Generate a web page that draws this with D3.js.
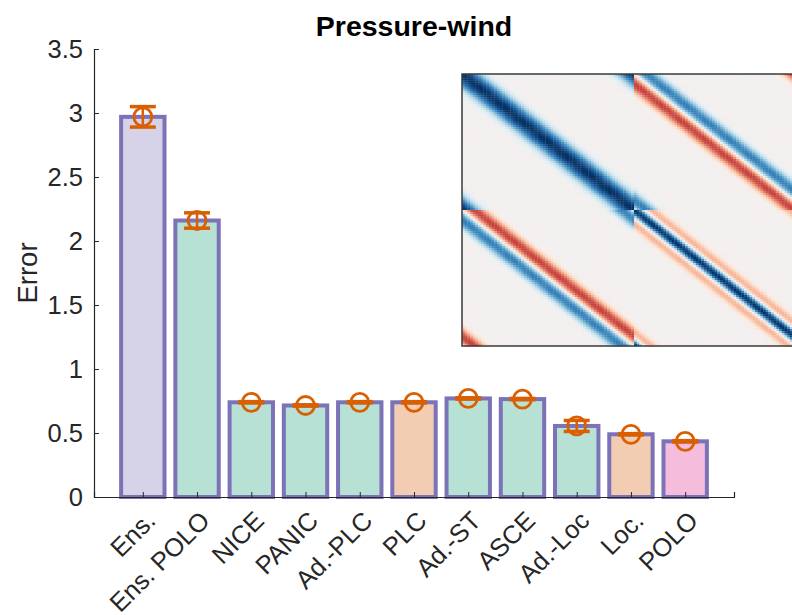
<!DOCTYPE html>
<html>
<head>
<meta charset="utf-8">
<script src="https://cdn.jsdelivr.net/npm/d3@7"></script>
<style>
  body { margin: 0; background: #fff; }
  svg { display: block; font-family: "Liberation Sans", Arial, sans-serif; }
</style>
</head>
<body>
<div class="chart"></div>
<script>
// bar chart data
const methods = ["Ens.", "Ens. POLO", "NICE", "PANIC", "Ad.-PLC", "PLC", "Ad.-ST", "ASCE", "Ad.-Loc", "Loc.", "POLO"];
const errorMean = [2.97, 2.16, 0.74, 0.715, 0.74, 0.74, 0.77, 0.765, 0.555, 0.49, 0.435];
const errorSpread = [0.08, 0.06, 0.005, 0.005, 0.005, 0.005, 0.005, 0.005, 0.043, 0.005, 0.005];
const methodGroup = ["ens", "adaptive", "adaptive", "adaptive", "adaptive", "local", "adaptive", "adaptive", "adaptive", "local", "polo"];
const yTicks = [0, 0.5, 1, 1.5, 2, 2.5, 3, 3.5];

// inset: covariance profiles across the diagonal (offset 0, 1, 2, ... cells)
const pressureProfile = [1.0, 0.98, 0.93, 0.85, 0.74, 0.61, 0.47, 0.34, 0.23, 0.14, 0.08, 0.04, 0.015, 0];
const windProfile = [1.0, 0.9, 0.65, 0.3, 0.0, -0.22, -0.33, -0.33, -0.26, -0.17, -0.09, -0.04, 0];
const crossProfile = [0, 0.25, 0.45, 0.6, 0.68, 0.68, 0.62, 0.5, 0.37, 0.24, 0.13, 0.06, 0.02, 0];
const gridSize = 64;

function chart() {
  const width = 792;
  const height = 615;
  const plot = {left: 94, right: 734, top: 49, bottom: 497};

  const svg = d3.select(".chart").append("svg")
    .attr("width", width)
    .attr("height", height);

  const xScale = d3.scaleLinear()
    .domain([0.1, 11.9])
    .range([plot.left, plot.right]);

  const yScale = d3.scaleLinear()
    .domain([0, 3.5])
    .range([plot.bottom, plot.top]);

  const fillScale = d3.scaleOrdinal()
    .domain(["ens", "adaptive", "local", "polo"])
    .range(["#d6d3e8", "#b7e1d5", "#f3cdb1", "#f5bcdb"]);

  const unit = xScale(2) - xScale(1);
  const barW = unit * 0.8;

  // bars
  svg.selectAll(".bar")
    .data(methods)
    .enter()
    .append("rect")
      .attr("class", "bar")
      .attr("x", (d, i) => xScale(i + 1) - barW / 2)
      .attr("y", (d, i) => yScale(errorMean[i]))
      .attr("width", barW)
      .attr("height", (d, i) => yScale(0) - yScale(errorMean[i]))
      .attr("fill", (d, i) => fillScale(methodGroup[i]))
      .attr("stroke", "#7b72b7")
      .attr("stroke-width", 4);

  // axes
  const axisColor = "#262626";
  const yAxis = svg.append("g")
    .attr("transform", `translate(${plot.left},0)`)
    .call(d3.axisLeft(yScale).tickValues(yTicks).tickSize(-5).tickPadding(11).tickFormat(d3.format("~g")));
  const xAxis = svg.append("g")
    .attr("transform", `translate(0,${plot.bottom})`)
    .call(d3.axisBottom(xScale).tickValues(d3.range(1, 12)).tickSize(-5).tickFormat(""));

  [xAxis, yAxis].forEach(g => {
    g.select(".domain").attr("stroke", axisColor).attr("stroke-width", 1.2);
    g.selectAll(".tick line").attr("stroke", axisColor).attr("stroke-width", 1);
  });
  yAxis.selectAll(".tick text")
    .attr("fill", axisColor)
    .style("font-size", "25.5px")
    .style("font-family", "Liberation Sans, Arial, sans-serif");

  // rotated category labels
  svg.selectAll(".xlabel")
    .data(methods)
    .enter()
    .append("text")
      .attr("class", "xlabel")
      .attr("transform", (d, i) => `translate(${xScale(i + 1) + 8},${plot.bottom + 19}) rotate(-45)`)
      .attr("text-anchor", "end")
      .attr("dy", "0.35em")
      .attr("fill", axisColor)
      .style("font-size", "25.5px")
      .text(d => d);

  // error bars
  const errColor = "#d95f02";
  const capW = 13;
  const errG = svg.append("g");
  methods.forEach((m, i) => {
    const cx = xScale(i + 1);
    const lo = yScale(errorMean[i] - errorSpread[i]);
    const hi = yScale(errorMean[i] + errorSpread[i]);
    errG.append("line")
      .attr("x1", cx).attr("x2", cx).attr("y1", lo).attr("y2", hi)
      .attr("stroke", errColor).attr("stroke-width", 2.5);
    [lo, hi].forEach(yv => {
      errG.append("line")
        .attr("x1", cx - capW).attr("x2", cx + capW).attr("y1", yv).attr("y2", yv)
        .attr("stroke", errColor).attr("stroke-width", 3.5);
    });
    errG.append("circle")
      .attr("cx", cx)
      .attr("cy", yScale(errorMean[i]))
      .attr("r", 9)
      .attr("fill", "none")
      .attr("stroke", errColor)
      .attr("stroke-width", 2.8);
  });

  // title and y label
  svg.append("text")
    .attr("x", (plot.left + plot.right) / 2)
    .attr("y", 36)
    .attr("text-anchor", "middle")
    .style("font-size", "28.5px")
    .style("font-weight", "bold")
    .attr("fill", "#000")
    .text("Pressure-wind");

  svg.append("text")
    .attr("transform", `translate(37,273) rotate(-90)`)
    .attr("text-anchor", "middle")
    .style("font-size", "27.5px")
    .attr("fill", axisColor)
    .text("Error");

  // inset covariance image
  const inset = {x: 462, y: 74, blockW: 172, blockH: 136};
  const colScale = d3.scaleBand()
    .domain(d3.range(2 * gridSize))
    .range([inset.x, inset.x + 2 * inset.blockW]);
  const rowScale = d3.scaleBand()
    .domain(d3.range(2 * gridSize))
    .range([inset.y, inset.y + 2 * inset.blockH]);
  const colorScale = d3.scaleSequential(d3.interpolateRdBu).domain([-1, 1]);

  function lookup(profile, d) {
    const a = Math.abs(d);
    return a < profile.length ? profile[a] : 0;
  }

  const cells = [];
  for (let r = 0; r < 2 * gridSize; r++) {
    for (let c = 0; c < 2 * gridSize; c++) {
      const br = r < gridSize ? 0 : 1;
      const bc = c < gridSize ? 0 : 1;
      let d = (c % gridSize) - (r % gridSize);
      if (d >= gridSize / 2) d -= gridSize;
      if (d < -gridSize / 2) d += gridSize;
      let v;
      if (br === 0 && bc === 0) v = lookup(pressureProfile, d);
      else if (br === 1 && bc === 1) v = lookup(windProfile, d);
      else {
        const s = d === 0 ? 0 : Math.sign(d);
        v = s * lookup(crossProfile, d) * (br === 0 ? 1 : -1);
      }
      cells.push({r, c, v});
    }
  }

  const insetG = svg.append("g");
  insetG.selectAll("rect")
    .data(cells)
    .enter()
    .append("rect")
      .attr("x", d => colScale(d.c))
      .attr("y", d => rowScale(d.r))
      .attr("width", colScale.bandwidth() + 0.3)
      .attr("height", rowScale.bandwidth() + 0.3)
      .attr("fill", d => colorScale(d.v));

  insetG.append("rect")
    .attr("x", inset.x)
    .attr("y", inset.y)
    .attr("width", 2 * inset.blockW)
    .attr("height", 2 * inset.blockH)
    .attr("fill", "none")
    .attr("stroke", "#3a3a3a")
    .attr("stroke-width", 1.5);
}

chart();
</script>
</body>
</html>
